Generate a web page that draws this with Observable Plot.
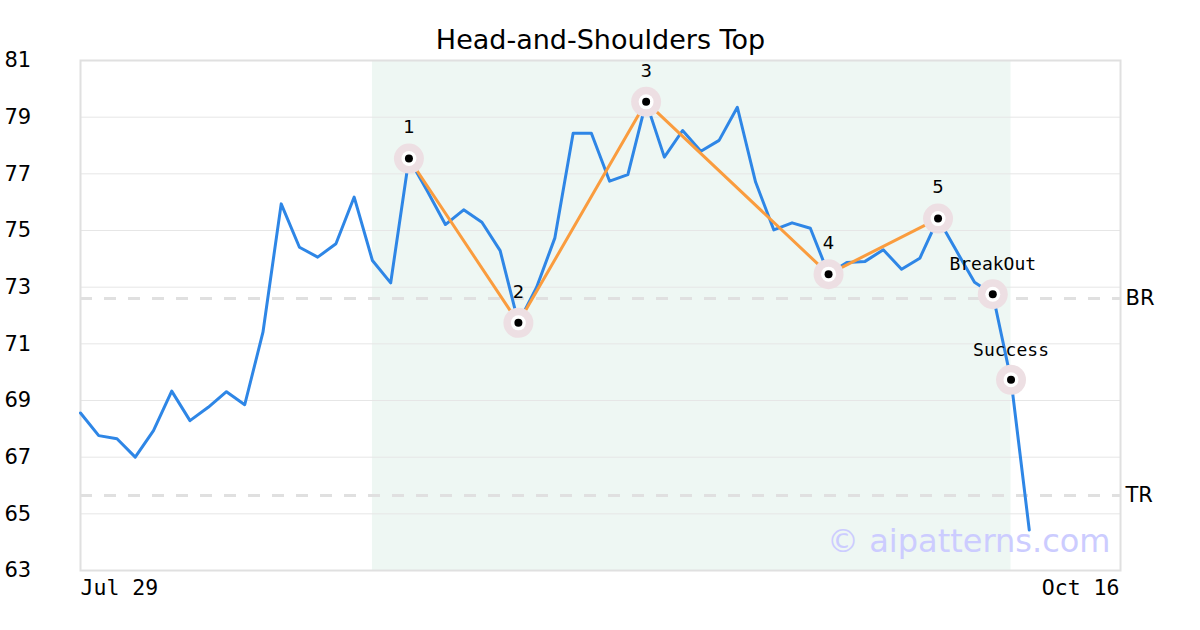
<!DOCTYPE html>
<html>
<head>
<meta charset="utf-8">
<script src="https://cdn.jsdelivr.net/npm/d3@7"></script>
<script src="https://cdn.jsdelivr.net/npm/@observablehq/plot@0.6"></script>
<style>
  html, body { margin: 0; padding: 0; background: #fff; }
  #chart { width: 1200px; height: 630px; }
</style>
</head>
<body>
<div id="chart"></div>
<script>
// ---- data ----
const titleText = "Head-and-Shoulders Top";
const prices = [
  68.56, 67.76, 67.65, 67.00, 67.94, 69.33, 68.29, 68.76, 69.31, 68.85,
  71.41, 75.94, 74.41, 74.06, 74.53, 76.18, 73.94, 73.15, 77.54, 76.40,
  75.21, 75.73, 75.29, 74.29, 71.74, 73.00, 74.74, 78.43, 78.43, 76.74,
  76.97, 79.54, 77.59, 78.53, 77.80, 78.18, 79.35, 76.71, 75.02, 75.27,
  75.08, 73.46, 73.87, 73.91, 74.32, 73.63, 74.02, 75.42, 74.29, 73.17,
  72.75, 69.73, 64.43
];
const xTickIdx = [0, 57];
const xTickLabels = ["Jul 29", "Oct 16"];
const yTicks = [63, 65, 67, 69, 71, 73, 75, 77, 79, 81];
const zoneStart = 16, zoneEnd = 51;
const levelNames = ["BR", "TR"];
const levelValues = [72.6, 65.65];
const pivotIdx = [18, 24, 31, 41, 47];
const pivotVal = [77.54, 71.74, 79.54, 73.46, 75.42];
const pivotLabel = ["1", "2", "3", "4", "5"];
const signalIdx = [50, 51];
const signalVal = [72.75, 69.73];
const signalLabel = ["BreakOut", "Success"];
const watermark = "© aipatterns.com";

// ---- derived tables ----
const series = prices.map((v, i) => ({i, v}));
const pivots = pivotIdx.map((i, k) => ({i, v: pivotVal[k], label: pivotLabel[k]}));
const signals = signalIdx.map((i, k) => ({i, v: signalVal[k], label: signalLabel[k]}));
const markers = pivots.concat(signals);
const levels = levelNames.map((n, k) => ({n, v: levelValues[k]}));
const xTicks = xTickIdx.map((i, k) => ({i, label: xTickLabels[k], anchor: k === 0 ? "start" : "end"}));
const sans = "DejaVu Sans";
const mono = "DejaVu Sans Mono";

const chart = Plot.plot({
  width: 1200,
  height: 630,
  marginTop: 60,
  marginBottom: 60,
  marginLeft: 80,
  marginRight: 80,
  style: {fontFamily: sans, fontSize: "20px", background: "#fff", color: "#000"},
  x: {domain: [0, 57], axis: null},
  y: {domain: [63, 81], axis: null},
  marks: [
    Plot.rect([{x1: zoneStart, x2: zoneEnd}], {x1: "x1", x2: "x2", y1: 63, y2: 81, fill: "#eef7f3"}),
    Plot.gridY(yTicks.slice(1, -1), {stroke: "#e6e6e6", strokeOpacity: 1, strokeWidth: 1}),
    Plot.ruleY(levels, {y: "v", stroke: "#e0e0e0", strokeWidth: 3, strokeDasharray: "12,12"}),
    Plot.frame({stroke: "#e0e0e0", strokeWidth: 2}),
    // y tick labels
    Plot.text(yTicks, {y: d => d, frameAnchor: "left", textAnchor: "start", dx: -76, fontSize: 21, fontFamily: sans, fill: "#000"}),
    // x tick labels
    Plot.text(xTicks.filter(d => d.anchor === "start"), {x: "i", y: 63, text: "label", textAnchor: "start", dy: 18, fontSize: 21.5, fontFamily: mono, fill: "#000"}),
    Plot.text(xTicks.filter(d => d.anchor === "end"), {x: "i", y: 63, text: "label", textAnchor: "end", dx: -1, dy: 18, fontSize: 21.5, fontFamily: mono, fill: "#000"}),
    Plot.text(levels, {x: 57, y: "v", text: "n", textAnchor: "start", dx: 5, fontSize: 21, fontFamily: sans, fill: "#000"}),
    Plot.text([watermark], {frameAnchor: "bottom-right", textAnchor: "end", lineAnchor: "middle", dx: -10, dy: -29, fontSize: 32, fontFamily: sans, fill: "#ccccff"}),
    Plot.line(series, {x: "i", y: "v", stroke: "#2e86e6", strokeWidth: 3}),
    Plot.line(pivots, {x: "i", y: "v", stroke: "#fa9c3e", strokeWidth: 3}),
    Plot.dot(markers, {x: "i", y: "v", r: 15, fill: "#eddfe3", stroke: "none"}),
    Plot.dot(markers, {x: "i", y: "v", r: 7.5, fill: "#fff", stroke: "none"}),
    Plot.dot(markers, {x: "i", y: "v", r: 4, fill: "#000", stroke: "none"}),
    Plot.text(pivots, {x: "i", y: "v", text: "label", dy: -31, fontSize: 18, fontFamily: sans, fill: "#000"}),
    Plot.text(signals, {x: "i", y: "v", text: "label", dy: -30, fontSize: 18, fontFamily: mono, fill: "#000"}),
    Plot.text([titleText], {frameAnchor: "top", lineAnchor: "middle", dy: -20, fontSize: 27, fontFamily: sans, fill: "#000"})
  ]
});
document.getElementById("chart").appendChild(chart);
</script>
</body>
</html>
